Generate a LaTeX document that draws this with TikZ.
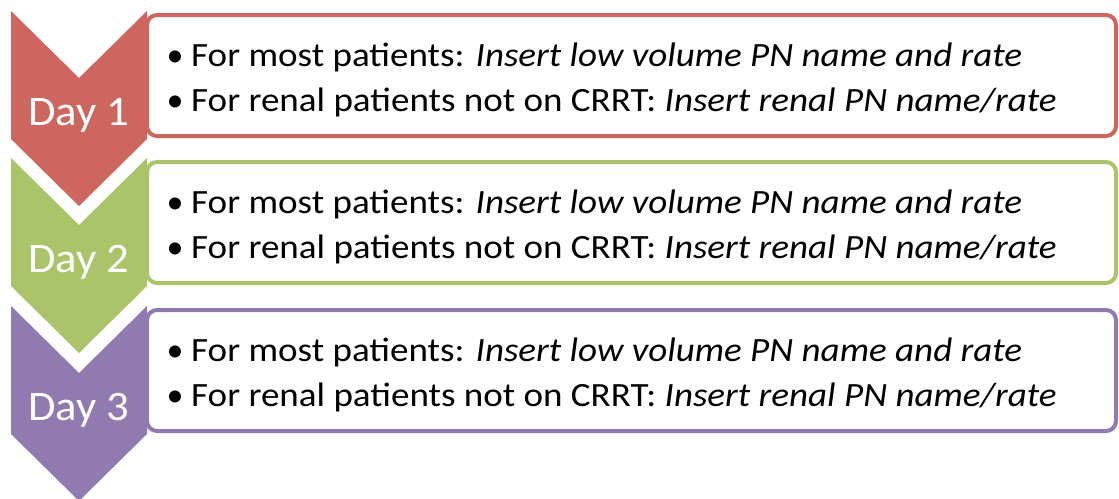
\documentclass[tikz,border=0pt]{standalone}
\usepackage{fontspec}
\setmainfont{Carlito}
\definecolor{cred}{HTML}{CD665F}
\definecolor{cgreen}{HTML}{ABC46A}
\definecolor{cpurple}{HTML}{917AB0}
\tikzset{
  daybox/.style={draw=#1, line width=4pt, fill=white, rounded corners=10pt},
  daylabel/.style={text=white, font=\fontsize{42}{50}\selectfont, inner sep=0pt, anchor=base},
  bullettext/.style={font=\fontsize{34}{40}\selectfont, inner sep=0pt, anchor=base west},
  bulletmark/.style={font=\fontsize{34}{40}\selectfont, inner sep=0pt, anchor=base},
}
\newcommand{\widen}[1]{\scalebox{1.09}[1]{#1}}
\newcommand{\dayblock}[4]{%
  \begin{scope}[yshift=-#1pt]
    \draw[daybox=#2] (147,15) -- (1116,15) -- (1116,136) -- (147,136) -- cycle;
    \fill[#2] (11,11) -- (79,78) -- (147,11) -- (147,139) -- (79,206) -- (11,139) -- cycle;
    \node[daylabel] (#4d) at (79,125) {\scalebox{1.065}[1]{#3}};
    \node[bulletmark] (#4b1) at (175,66.5) {•};
    \node[bullettext] (#4t1) at (191,66.5) {\widen{For most patients: \textit{Insert low volume PN name and rate}}};
    \node[bulletmark] (#4b2) at (175,111.5) {•};
    \node[bullettext] (#4t2) at (191,111.5) {\widen{For renal patients not on CRRT: \textit{Insert renal PN name/rate}}};
  \end{scope}}
\begin{document}
\begin{tikzpicture}[x=1pt,y=-1pt]
\useasboundingbox (0,0) rectangle (1119,498);
\dayblock{0}{cred}{Day 1}{a}
\dayblock{147}{cgreen}{Day 2}{b}
\dayblock{295}{cpurple}{Day 3}{c}
\end{tikzpicture}
\end{document}
